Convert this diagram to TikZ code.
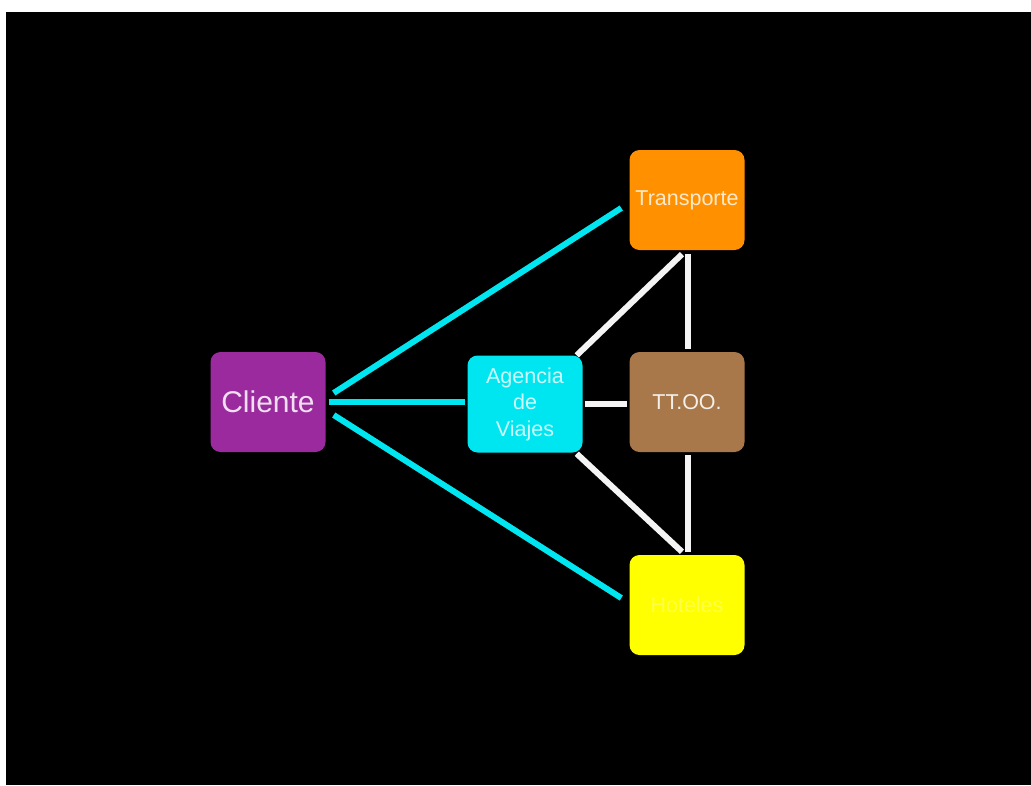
\documentclass[tikz,border=0pt]{standalone}
\usepackage{fontspec}
\setmainfont{Liberation Sans}
\definecolor{agBack}{HTML}{000000}
\definecolor{agPurple}{HTML}{9A2A9E}
\definecolor{agCyan}{HTML}{00E6F0}
\definecolor{agOrange}{HTML}{FF9100}
\definecolor{agBrown}{HTML}{A8784A}
\definecolor{agYellow}{HTML}{FFFF00}
\definecolor{agChalk}{HTML}{F4F4F4}
\usetikzlibrary{calc}

\tikzset{
  box/.style={rounded corners=10pt, minimum width=115pt, minimum height=100pt,
    inner sep=0pt, align=center, font=\fontsize{21.5}{26.5}\selectfont},
  cyanline/.style={agCyan, line width=6pt},
  chalkline/.style={agChalk, line width=6pt}
}

\begin{document}
\begin{tikzpicture}[x=1pt,y=-1pt]
  \useasboundingbox (0,0) rectangle (1031,785);
  \fill[agBack] (6,12) rectangle (1031,785);

  \node[box, fill=agPurple, text=agPurple!15!white, font=\fontsize{30}{35}\selectfont] (cli) at (268,402) {Cliente};
  \node[box, fill=agCyan, text=agCyan!20!white, minimum height=97pt] (agv) at (525,404) {Agencia\\de\\Viajes};
  \node[box, fill=agOrange, text=agOrange!20!white] (tra) at (687,200) {Transporte};
  \node[box, fill=agBrown, text=agBrown!12!white] (too) at (687,402) {TT.OO.};
  \node[box, fill=agYellow, text=agYellow!72!white] (hot) at (687,605) {Hoteles};

  % cliente
  \draw[cyanline] ($(cli.east)+(8,-9)$) -- ($(tra.west)+(-8,8)$);
  \draw[cyanline, shorten <=3pt, shorten >=2pt] (cli.east) -- (cli.east -| agv.west);
  \draw[cyanline] ($(cli.east)+(8,13)$) -- ($(hot.west)+(-8,-7)$);

  % agencia y proveedores
  \draw[chalkline] ($(agv.north east)+(-6,0)$) -- ($(tra.south)+(-5,4)$);
  \draw[chalkline, shorten <=2pt, shorten >=2pt] (agv.east) -- (agv.east -| too.west);
  \draw[chalkline] ($(agv.south east)+(-6,1)$) -- ($(hot.north)+(-5,-3)$);
  \draw[chalkline] ($(tra.south)+(1,4)$) -- ($(too.north)+(1,-3)$);
  \draw[chalkline] ($(too.south)+(1,3)$) -- ($(hot.north)+(1,-3)$);
\end{tikzpicture}
\end{document}
